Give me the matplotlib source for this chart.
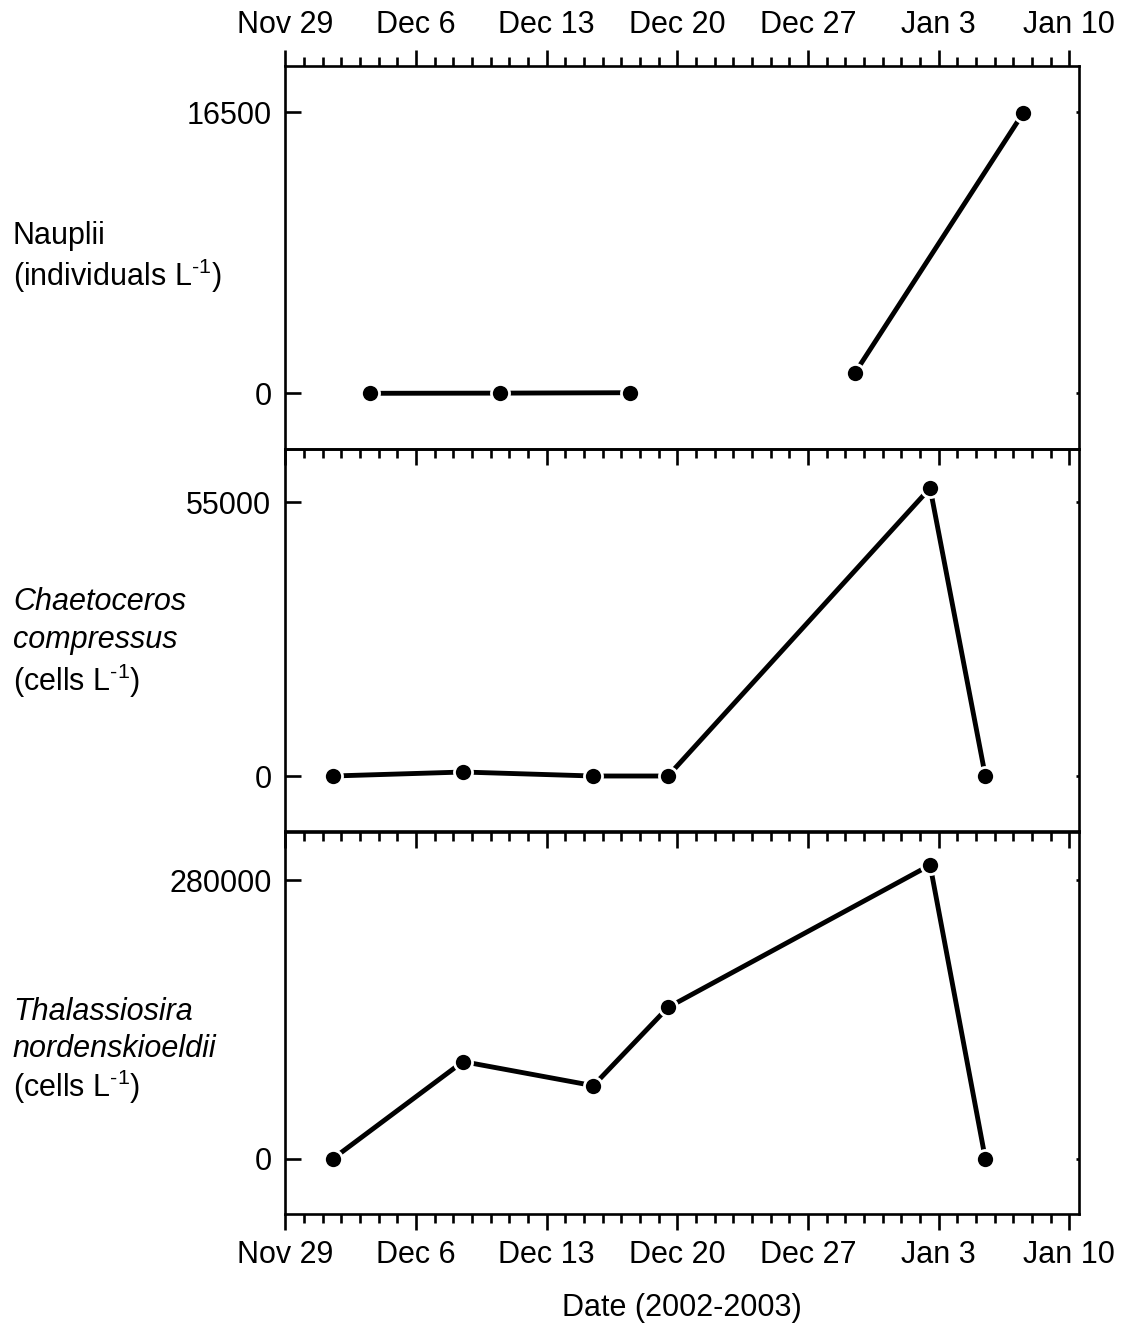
import matplotlib
matplotlib.use("Agg")
import matplotlib.pyplot as plt
import matplotlib.dates as mdates
import matplotlib.ticker as mticker
import numpy as np
import pandas as pd
from datetime import datetime

plt.rcParams['font.family'] = ['Liberation Sans', 'DejaVu Sans']
plt.rcParams['mathtext.fontset'] = 'custom'
plt.rcParams['mathtext.rm'] = 'Liberation Sans'
plt.rcParams['mathtext.it'] = 'Liberation Sans:italic'

# sampling dates and abundances (NaN = no sample, breaks the line)
nauplii_dates = pd.to_datetime(["2002-12-03 13:00", "2002-12-10 12:00", "2002-12-17 11:00",
                                "2002-12-23 12:00",
                                "2002-12-29 12:00", "2003-01-07 12:30"])
nauplii = [0, 10, 35, np.nan, 1170, 16450]

chaeto_dates = pd.to_datetime(["2002-12-01 13:00", "2002-12-08 12:30", "2002-12-15 12:00",
                               "2002-12-19 12:00", "2003-01-02 13:00", "2003-01-05 12:00"])
chaeto = [0, 800, 0, 0, 57800, 0]

thal_dates = chaeto_dates
thal = [0, 97700, 73500, 152100, 295100, 0]

yticks_top = [0, 16500]
yticks_mid = [0, 55000]
yticks_bot = [0, 280000]

xmin = datetime(2002, 11, 29)
xmax = datetime(2003, 1, 10, 12, 45)

fig = plt.figure(figsize=(11.24, 13.27), dpi=100)
left, width, h = 0.2538, 0.7064, 0.28862
ax1 = fig.add_axes([left, 0.66164, width, h])
ax2 = fig.add_axes([left, 0.37302, width, h])
ax3 = fig.add_axes([left, 0.08516, width, h])

LW = 1.9
FS = 22


def date_fmt(x, pos):
    d = mdates.num2date(x)
    return f"{d:%b} {d.day}"


def draw(ax, dates, vals, ticks, ylim):
    ax.patch.set_visible(False)
    ax.plot(dates, vals, color='black', lw=3.5, solid_capstyle='round', zorder=2)
    ax.plot(dates, vals, 'o', color='white', ms=15, mew=0, zorder=3)
    ax.plot(dates, vals, 'o', color='black', ms=11, mew=0, zorder=4)
    ax.set_xlim(xmin, xmax)
    ax.set_ylim(*ylim)
    ax.set_yticks(ticks)
    ax.yaxis.set_major_formatter(mticker.FuncFormatter(lambda v, p: f"{int(v)}"))
    ax.xaxis.set_major_locator(mdates.WeekdayLocator(byweekday=mdates.FR))
    ax.xaxis.set_minor_locator(mdates.DayLocator())
    ax.xaxis.set_major_formatter(mticker.FuncFormatter(date_fmt))
    for s in ax.spines.values():
        s.set_linewidth(LW)
    ax.tick_params(axis='y', which='major', direction='in', length=11.5, width=LW,
                   labelsize=FS, pad=10, right=True)
    ax.tick_params(axis='x', which='major', direction='out', length=11.5, width=LW,
                   labelsize=FS, pad=7)
    ax.tick_params(axis='x', which='minor', direction='out', length=6.5, width=LW)
    ax.tick_params(axis='x', which='both', bottom=True, labelbottom=False, top=False)
    # right-hand ticks are short and point outward
    for t in ax.yaxis.get_major_ticks():
        t.tick2line.set_marker(0)
        t.tick2line.set_markersize(2.5)


draw(ax1, nauplii_dates, nauplii, yticks_top, (-3271, 19219))
draw(ax2, chaeto_dates, chaeto, yticks_mid, (-11240, 65640))
draw(ax3, thal_dates, thal, yticks_bot, (-55400, 329350))

ax1.tick_params(axis='x', which='both', top=True, labeltop=True)
ax3.tick_params(axis='x', which='both', labelbottom=True)
ax3.set_xlabel("Date (2002-2003)", fontsize=FS, labelpad=17)

# panel labels on the left
x0 = 13 / 1124
sup = "L$^{\\mathregular{\u20101}}$"


def ftext(ypix, s, italic=False):
    fig.text(x0, 1 - ypix / 1327, s, fontsize=FS, va='center', ha='left',
             style='italic' if italic else 'normal')


ftext(236, "Nauplii")
ftext(276, "(individuals " + sup + ")")
ftext(602, "Chaetoceros", True)
ftext(640, "compressus", True)
ftext(681, "(cells " + sup + ")")
ftext(1012, "Thalassiosira", True)
ftext(1049, "nordenskioeldii", True)
ftext(1087, "(cells " + sup + ")")

fig.savefig("out.png", dpi=100)
